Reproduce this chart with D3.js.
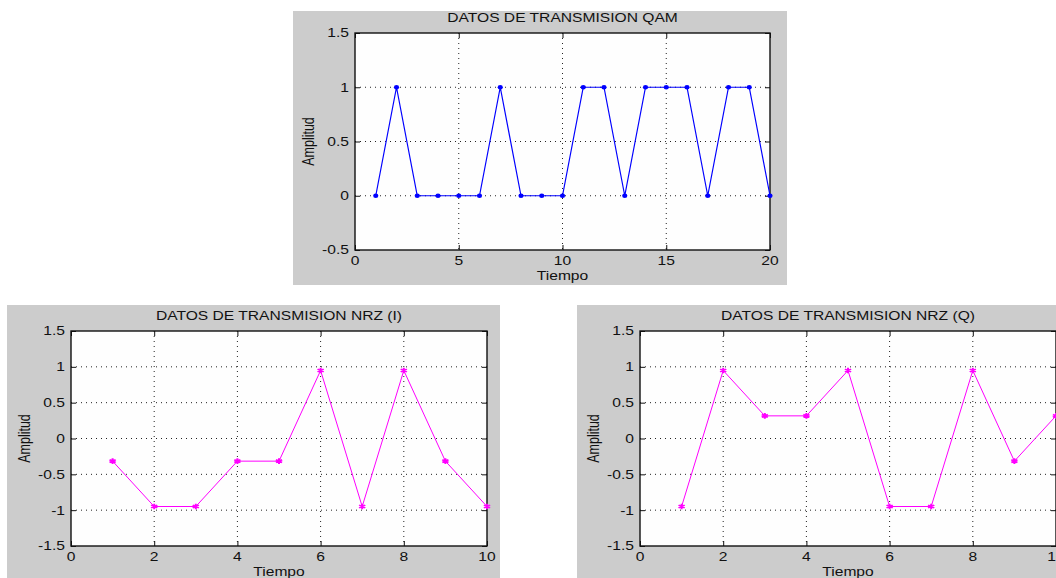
<!DOCTYPE html>
<html>
<head>
<meta charset="utf-8">
<script src="https://cdn.jsdelivr.net/npm/d3@7"></script>
<style>
  body { margin: 0; background: #fff; }
  svg { display: block; }
</style>
</head>
<body>
<div id="canvas"></div>
<script>
"use strict"

/* Data: QAM signal (top) */
let qamTime = [1, 2, 3, 4, 5, 6, 7, 8, 9, 10, 11, 12, 13, 14, 15, 16, 17, 18, 19, 20];
let qamValues = [0, 1, 0, 0, 0, 0, 1, 0, 0, 0, 1, 1, 0, 1, 1, 1, 0, 1, 1, 0];
let qamXTicks = [0, 5, 10, 15, 20];
let qamYTicks = [-0.5, 0, 0.5, 1, 1.5];
let qamYLabels = ["-0.5", "0", "0.5", "1", "1.5"];

/* Data: NRZ I and Q channels (bottom) */
let nrzTime = [1, 2, 3, 4, 5, 6, 7, 8, 9, 10];
let nrzI = [-0.316, -0.949, -0.949, -0.316, -0.316, 0.949, -0.949, 0.949, -0.316, -0.949];
let nrzQ = [-0.949, 0.949, 0.316, 0.316, 0.949, -0.949, -0.949, 0.949, -0.316, 0.316];
let nrzXTicks = [0, 2, 4, 6, 8, 10];
let nrzYTicks = [-1.5, -1, -0.5, 0, 0.5, 1, 1.5];
let nrzYLabels = ["-1.5", "-1", "-0.5", "0", "0.5", "1", "1.5"];

/* Drawing configuration */
let svgWidth = 1056;
let svgHeight = 578;
let sx = 1.25;           // the picture is stretched sideways
let fontFamily = "'Liberation Sans', Arial, sans-serif";
let fontSize = 12.5;
let textColor = "#111";

let svg = d3.select("#canvas")
    .append("svg")
    .attr("width", svgWidth)
    .attr("height", svgHeight);

function addText(g, x, y, str, anchor, rotate) {
    let t = g.append("text")
        .attr("transform", "translate(" + x + "," + y + ") scale(" + sx + ",1)" + (rotate ? " rotate(-90)" : ""))
        .attr("text-anchor", anchor)
        .attr("dominant-baseline", "central")
        .attr("font-family", fontFamily)
        .attr("font-size", fontSize)
        .attr("fill", textColor)
        .text(str);
    return t;
}

function drawPanel(cfg) {
    let g = svg.append("g");

    /* gray figure background */
    g.append("rect")
        .attr("x", cfg.panel.x)
        .attr("y", cfg.panel.y)
        .attr("width", cfg.panel.w)
        .attr("height", cfg.panel.h)
        .attr("fill", "#cccccc");

    let box = cfg.box;
    let xScale = d3.scaleLinear().domain(cfg.xDomain).range([box.l, box.r]);
    let yScale = d3.scaleLinear().domain(cfg.yDomain).range([box.b, box.t]);

    /* white plot area */
    g.append("rect")
        .attr("x", box.l)
        .attr("y", box.t)
        .attr("width", box.r - box.l)
        .attr("height", box.b - box.t)
        .attr("fill", "#fefefe");

    /* dotted grid */
    g.selectAll(".gx")
        .data(cfg.xTicks.filter(d => d !== cfg.xDomain[0] && d !== cfg.xDomain[1]))
        .join("line")
        .attr("x1", d => xScale(d))
        .attr("x2", d => xScale(d))
        .attr("y1", box.t)
        .attr("y2", box.b)
        .attr("stroke", "#222")
        .attr("stroke-width", 1)
        .attr("stroke-dasharray", "1,4");

    g.selectAll(".gy")
        .data(cfg.yTicks.filter(d => d !== cfg.yDomain[0] && d !== cfg.yDomain[1]))
        .join("line")
        .attr("x1", box.l)
        .attr("x2", box.r)
        .attr("y1", d => yScale(d))
        .attr("y2", d => yScale(d))
        .attr("stroke", "#222")
        .attr("stroke-width", 1)
        .attr("stroke-dasharray", "1,4");

    /* inward ticks on all four sides */
    let tickLen = 5;
    let axes = [
        [d3.axisBottom(xScale).tickValues(cfg.xTicks), box.b],
        [d3.axisTop(xScale).tickValues(cfg.xTicks), box.t]
    ];
    axes.forEach(function (a) {
        g.append("g")
            .attr("transform", "translate(0," + a[1] + ")")
            .call(a[0].tickSizeInner(-tickLen).tickSizeOuter(0).tickFormat(""))
            .call(s => s.select(".domain").remove())
            .selectAll("line").attr("stroke", "#111");
    });
    let vaxes = [
        [d3.axisLeft(yScale).tickValues(cfg.yTicks), box.l],
        [d3.axisRight(yScale).tickValues(cfg.yTicks), box.r]
    ];
    vaxes.forEach(function (a) {
        g.append("g")
            .attr("transform", "translate(" + a[1] + ",0)")
            .call(a[0].tickSizeInner(-tickLen).tickSizeOuter(0).tickFormat(""))
            .call(s => s.select(".domain").remove())
            .selectAll("line").attr("stroke", "#111");
    });

    /* box */
    g.append("rect")
        .attr("x", box.l)
        .attr("y", box.t)
        .attr("width", box.r - box.l)
        .attr("height", box.b - box.t)
        .attr("fill", "none")
        .attr("stroke", "#111")
        .attr("stroke-width", 1.4);

    /* tick labels */
    cfg.xTicks.forEach(function (d) {
        addText(g, xScale(d), box.b + 11, String(d), "middle");
    });
    cfg.yTicks.forEach(function (d, i) {
        addText(g, box.l - 6, yScale(d), cfg.yLabels[i], "end");
    });

    /* titles */
    addText(g, (box.l + box.r) / 2, box.t - 15, cfg.title, "middle");
    addText(g, (box.l + box.r) / 2, box.b + 26, "Tiempo", "middle");
    addText(g, box.l - 47, (box.t + box.b) / 2, "Amplitud", "middle", true);

    /* series line */
    let pts = cfg.xs.map((x, i) => [x, cfg.ys[i]]);
    let line = d3.line()
        .x(d => xScale(d[0]))
        .y(d => yScale(d[1]));

    g.append("path")
        .datum(pts)
        .attr("d", line)
        .attr("fill", "none")
        .attr("stroke", cfg.color)
        .attr("stroke-width", cfg.lineWidth);

    /* markers */
    if (cfg.marker === "dot") {
        g.selectAll(".mk")
            .data(pts)
            .join("ellipse")
            .attr("cx", d => xScale(d[0]))
            .attr("cy", d => yScale(d[1]))
            .attr("rx", 2.6)
            .attr("ry", 2.2)
            .attr("fill", cfg.color);
    } else {
        let sym = d3.symbol().type(d3.symbolAsterisk).size(22);
        g.selectAll(".mk")
            .data(pts)
            .join("path")
            .attr("d", sym)
            .attr("transform", d => "translate(" + xScale(d[0]) + "," + yScale(d[1]) + ") scale(1.25,1)")
            .attr("fill", "none")
            .attr("stroke", cfg.color)
            .attr("stroke-width", 1.6);
    }
}

/* Top: QAM */
drawPanel({
    panel: { x: 293, y: 11, w: 494, h: 274 },
    box: { l: 355, t: 33, r: 770, b: 250 },
    xDomain: [0, 20],
    yDomain: [-0.5, 1.5],
    xTicks: qamXTicks,
    yTicks: qamYTicks,
    yLabels: qamYLabels,
    title: "DATOS DE TRANSMISION QAM",
    xs: qamTime,
    ys: qamValues,
    color: "#0000ff",
    lineWidth: 1.2,
    marker: "dot"
});

/* Bottom left: NRZ (I) */
drawPanel({
    panel: { x: 7, y: 305, w: 493, h: 290 },
    box: { l: 71, t: 331, r: 487, b: 546 },
    xDomain: [0, 10],
    yDomain: [-1.5, 1.5],
    xTicks: nrzXTicks,
    yTicks: nrzYTicks,
    yLabels: nrzYLabels,
    title: "DATOS DE TRANSMISION NRZ (I)",
    xs: nrzTime,
    ys: nrzI,
    color: "#ff00ff",
    lineWidth: 1,
    marker: "star"
});

/* Bottom right: NRZ (Q) */
drawPanel({
    panel: { x: 577, y: 305, w: 520, h: 290 },
    box: { l: 640, t: 331, r: 1056, b: 546 },
    xDomain: [0, 10],
    yDomain: [-1.5, 1.5],
    xTicks: nrzXTicks,
    yTicks: nrzYTicks,
    yLabels: nrzYLabels,
    title: "DATOS DE TRANSMISION NRZ (Q)",
    xs: nrzTime,
    ys: nrzQ,
    color: "#ff00ff",
    lineWidth: 1,
    marker: "star"
});
</script>
</body>
</html>
